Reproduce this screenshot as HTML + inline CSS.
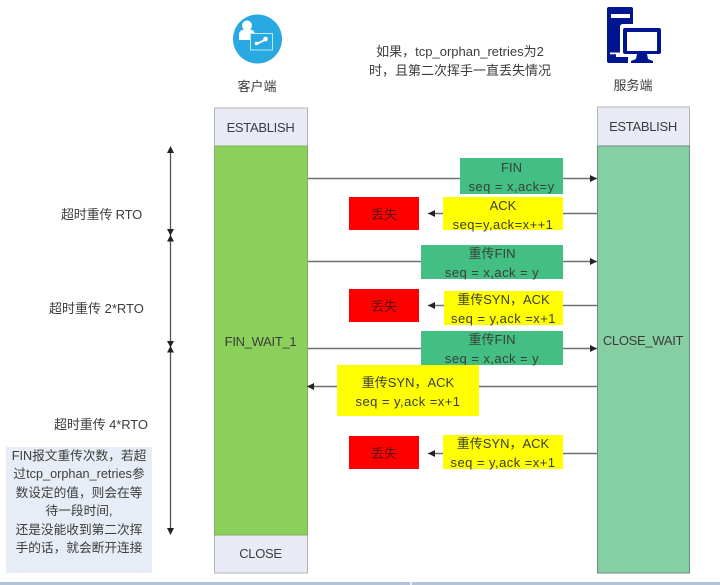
<!DOCTYPE html>
<html><head><meta charset="utf-8">
<style>
html,body{margin:0;padding:0;background:#fff}
#p{position:relative;width:720px;height:585px;overflow:hidden;background:#fff;font-family:"Liberation Sans","Noto Sans CJK SC",sans-serif;color:#3c3c3c;font-size:13px;filter:blur(0.35px)}
.t{position:absolute;text-align:center;white-space:nowrap;line-height:18px}
.n{letter-spacing:-0.3px}
.b{position:absolute;box-sizing:border-box;padding-top:2px;text-align:center;white-space:nowrap;font-size:13px;display:flex;flex-direction:column;justify-content:center;line-height:19px;color:#3a3f3a}
.b i{font-style:normal;letter-spacing:0.45px}
.g{background:#43bf83}.y{background:#ffff00}.r{background:#ff0000;color:#5a1010}
svg{position:absolute;left:0;top:0}
</style></head><body><div id="p">
<svg width="720" height="585" viewBox="0 0 720 585">
<defs>
<marker id="a" markerWidth="8" markerHeight="8" refX="7" refY="3.500" orient="auto" markerUnits="userSpaceOnUse"><path d="M0 0L7 3.500L0 7z" fill="#222"/></marker>
</defs>
<!-- columns -->
<rect x="214.500" y="108" width="93" height="465" fill="#e8ebf6" stroke="#b4b4b4"/>
<rect x="214.500" y="146" width="93" height="389" fill="#8bd05a" stroke="#80b060"/>
<rect x="597.500" y="107" width="92" height="466" fill="#e8ebf6" stroke="#b4b4b4"/>
<rect x="597.500" y="146" width="92" height="427" fill="#85cfa2" stroke="#6d8f80"/>
<!-- connectors -->
<g stroke="#707070" stroke-width="1.400" fill="none">
<line x1="308" y1="178.500" x2="597" y2="178.500" marker-end="url(#a)"/>
<line x1="597" y1="213.500" x2="428" y2="213.500" marker-end="url(#a)"/>
<line x1="308" y1="261.500" x2="597" y2="261.500" marker-end="url(#a)"/>
<line x1="597" y1="305.500" x2="428" y2="305.500" marker-end="url(#a)"/>
<line x1="308" y1="348.500" x2="597" y2="348.500" marker-end="url(#a)"/>
<line x1="597" y1="386.500" x2="307" y2="386.500" marker-end="url(#a)"/>
<line x1="597" y1="453.500" x2="428" y2="453.500" marker-end="url(#a)"/>
</g>
<line x1="170.500" y1="150" x2="170.500" y2="532" stroke="#555" stroke-width="1.300"/>
<!-- timeline heads -->
<g fill="#222">
<path d="M170.500 146l3.500 7h-7z"/>
<path d="M167 229h7l-3.500 6.500z"/><path d="M170.500 235l3.500 6.500h-7z"/>
<path d="M167 341h7l-3.500 6.500z"/><path d="M170.500 346l3.500 6.500h-7z"/>
<path d="M167 528h7l-3.500 7z"/>
</g>
<!-- client icon -->
<circle cx="257.500" cy="39" r="24.500" fill="#29a9e2"/>
<circle cx="247" cy="25.500" r="5" fill="#fff"/>
<path d="M239 40v-5q0-5 5-5.500h6q5 .5 5 5.500v5z" fill="#fff"/>
<rect x="250.500" y="33.500" width="22" height="16.500" fill="#29a9e2" stroke="#bfe6f6" stroke-width="1"/>
<path d="M256 44l9-4" stroke="#fff" stroke-width="2"/><circle cx="256.500" cy="43.500" r="1.800" fill="#fff"/><circle cx="265.500" cy="39" r="2.300" fill="#fff"/>
<!-- server icon -->
<path d="M609 7h22q2 0 2 2v15h-10q-3 0-3 3v27h-4v3h12v6h-19q-2 0-2-2v-52q0-2 2-2z" fill="#00158f"/>
<rect x="611" y="14" width="19" height="4" fill="#fff"/>
<rect x="610" y="52.500" width="10" height="1.800" fill="#fff"/>
<path d="M625 28h34q2 0 2 2v22q0 2-2 2h-34q-2 0-2-2v-22q0-2 2-2z" fill="#00158f"/>
<rect x="627" y="32" width="30" height="19" fill="#fff"/>
<path d="M637 54h10l1 5l5 2v2h-22v-2l5-2z" fill="#00158f"/>
<!-- bottom strip -->
<rect x="0" y="582" width="720" height="3" fill="#b2c2d8"/>
<rect x="410" y="582" width="2" height="3" fill="#eee"/>
</svg>

<div class="t" style="left:214px;top:78px;width:86px">客户端</div>
<div class="t" style="left:590px;top:77px;width:86px">服务端</div>
<div class="t" style="left:340px;top:42px;width:240px;line-height:19px">如果，tcp_orphan_retries为2<br>时，且第二次挥手一直丢失情况</div>
<div class="t n" style="left:214px;top:119px;width:93px">ESTABLISH</div>
<div class="t n" style="left:597px;top:118px;width:92px">ESTABLISH</div>
<div class="t n" style="left:214px;top:333px;width:93px">FIN_WAIT_1</div>
<div class="t n" style="left:597px;top:332px;width:92px">CLOSE_WAIT</div>
<div class="t n" style="left:214px;top:545px;width:93px">CLOSE</div>
<div class="t" style="left:61px;top:206px;letter-spacing:-0.2px">超时重传 RTO</div>
<div class="t" style="left:49px;top:300px">超时重传 2*RTO</div>
<div class="t" style="left:54px;top:416px;letter-spacing:-0.1px">超时重传 4*RTO</div>
<div class="b" style="left:6px;top:447px;width:146px;height:126px;padding-top:0;background:#e8ecf7;justify-content:flex-start;line-height:18.400px;font-size:12.700px"><span>FIN报文重传次数，若超<br>过tcp_orphan_retries参<br>数设定的值，则会在等<br>待一段时间,<br>还是没能收到第二次挥<br>手的话，就会断开连接</span></div>

<div class="b g" style="left:460px;top:158px;width:103px;height:36px">FIN<br><i>seq = x,ack=y</i></div>
<div class="b y" style="left:443px;top:197px;width:120px;height:33px">ACK<br><i>seq=y,ack=x++1</i></div>
<div class="b r" style="left:349px;top:197px;width:70px;height:33px">丢失</div>
<div class="b g" style="left:421px;top:245px;width:142px;height:34px">重传FIN<br><i>seq = x,ack = y</i></div>
<div class="b r" style="left:349px;top:289px;width:70px;height:33px">丢失</div>
<div class="b y" style="left:444px;top:291px;width:119px;height:34px">重传SYN，ACK<br><i>seq = y,ack =x+1</i></div>
<div class="b g" style="left:421px;top:331px;width:142px;height:34px">重传FIN<br><i>seq = x,ack = y</i></div>
<div class="b y" style="left:337px;top:365px;width:142px;height:51px">重传SYN，ACK<br><i>seq = y,ack =x+1</i></div>
<div class="b r" style="left:349px;top:436px;width:70px;height:33px">丢失</div>
<div class="b y" style="left:443px;top:435px;width:120px;height:34px">重传SYN，ACK<br><i>seq = y,ack =x+1</i></div>
</div></body></html>
